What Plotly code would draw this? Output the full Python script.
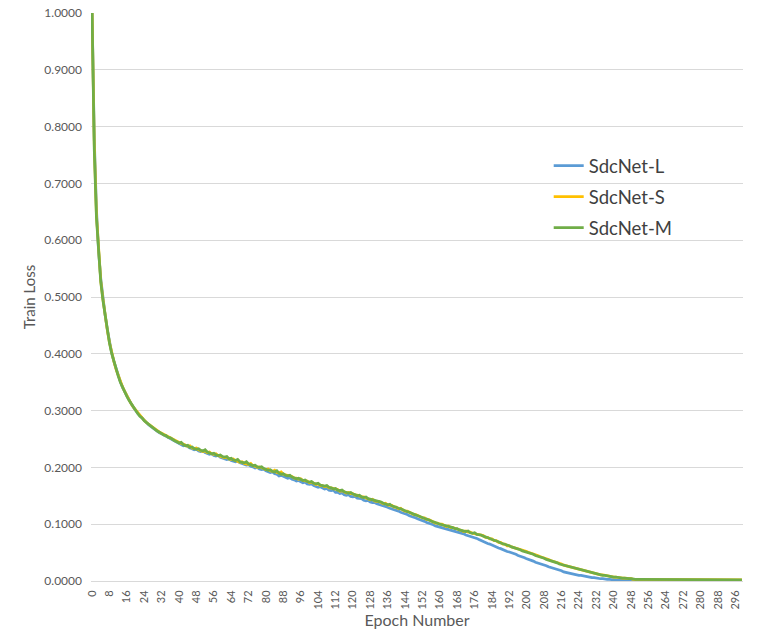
import plotly.graph_objects as go

epochs = list(range(300))

loss_L = [
    1.000, 0.780, 0.655, 0.580, 0.532, 0.498, 0.468, 0.443, 0.421, 0.402,
    0.387, 0.374, 0.362, 0.351, 0.341, 0.333, 0.326, 0.319, 0.312, 0.306,
    0.300, 0.295, 0.291, 0.287, 0.282, 0.279, 0.275, 0.272, 0.269, 0.267,
    0.264, 0.261, 0.259, 0.257, 0.255, 0.252, 0.251, 0.248, 0.246, 0.244,
    0.242, 0.241, 0.238, 0.239, 0.236, 0.234, 0.233, 0.231, 0.232, 0.229,
    0.228, 0.229, 0.226, 0.225, 0.223, 0.224, 0.221, 0.220, 0.221, 0.218,
    0.217, 0.216, 0.214, 0.215, 0.212, 0.211, 0.210, 0.211, 0.208, 0.207,
    0.206, 0.204, 0.205, 0.202, 0.201, 0.199, 0.200, 0.197, 0.196, 0.197,
    0.194, 0.193, 0.191, 0.192, 0.189, 0.188, 0.185, 0.186, 0.184, 0.183,
    0.181, 0.182, 0.179, 0.178, 0.176, 0.177, 0.175, 0.173, 0.174, 0.171,
    0.170, 0.171, 0.168, 0.167, 0.165, 0.166, 0.164, 0.162, 0.163, 0.160,
    0.159, 0.160, 0.156, 0.156, 0.154, 0.155, 0.152, 0.151, 0.152, 0.149,
    0.148, 0.149, 0.146, 0.145, 0.145, 0.142, 0.141, 0.142, 0.139, 0.138,
    0.138, 0.136, 0.135, 0.134, 0.132, 0.131, 0.130, 0.128, 0.127, 0.126,
    0.124, 0.123, 0.121, 0.120, 0.118, 0.117, 0.115, 0.114, 0.112, 0.111,
    0.109, 0.108, 0.106, 0.105, 0.103, 0.102, 0.100, 0.099, 0.097, 0.096,
    0.094, 0.093, 0.092, 0.091, 0.090, 0.089, 0.088, 0.087, 0.086, 0.085,
    0.084, 0.083, 0.081, 0.080, 0.079, 0.078, 0.076, 0.075, 0.073, 0.071,
    0.070, 0.068, 0.066, 0.065, 0.063, 0.061, 0.060, 0.058, 0.057, 0.055,
    0.054, 0.052, 0.051, 0.050, 0.048, 0.047, 0.045, 0.044, 0.042, 0.041,
    0.039, 0.038, 0.036, 0.035, 0.033, 0.032, 0.031, 0.029, 0.028, 0.027,
    0.025, 0.024, 0.023, 0.021, 0.020, 0.019, 0.018, 0.016, 0.015, 0.014,
    0.013, 0.013, 0.012, 0.011, 0.010, 0.010, 0.009, 0.008, 0.008, 0.007,
    0.006, 0.006, 0.005, 0.005, 0.004, 0.004, 0.003, 0.003, 0.003, 0.002,
    0.002, 0.002, 0.002, 0.001, 0.001, 0.001, 0.001, 0.001, 0.001, 0.001,
    0.001, 0.001, 0.001, 0.001, 0.001, 0.001, 0.001, 0.001, 0.001, 0.001,
    0.001, 0.001, 0.001, 0.001, 0.001, 0.001, 0.001, 0.001, 0.001, 0.001,
    0.001, 0.001, 0.001, 0.001, 0.001, 0.001, 0.001, 0.001, 0.001, 0.001,
    0.001, 0.001, 0.001, 0.001, 0.001, 0.001, 0.001, 0.001, 0.001, 0.001,
    0.001, 0.001, 0.001, 0.001, 0.001, 0.001, 0.001, 0.001, 0.001, 0.001,
]

loss_S = [
    1.000, 0.770, 0.645, 0.575, 0.528, 0.496, 0.467, 0.442, 0.420, 0.402,
    0.387, 0.373, 0.362, 0.351, 0.342, 0.334, 0.326, 0.319, 0.312, 0.306,
    0.301, 0.296, 0.291, 0.287, 0.283, 0.279, 0.276, 0.273, 0.270, 0.267,
    0.265, 0.262, 0.260, 0.258, 0.255, 0.254, 0.251, 0.250, 0.248, 0.246,
    0.244, 0.242, 0.241, 0.239, 0.237, 0.238, 0.234, 0.233, 0.234, 0.231,
    0.230, 0.228, 0.229, 0.226, 0.227, 0.224, 0.223, 0.224, 0.221, 0.220,
    0.219, 0.217, 0.218, 0.215, 0.214, 0.215, 0.212, 0.211, 0.209, 0.210,
    0.207, 0.206, 0.205, 0.207, 0.203, 0.202, 0.200, 0.201, 0.199, 0.198,
    0.196, 0.197, 0.194, 0.193, 0.195, 0.191, 0.190, 0.192, 0.188, 0.187,
    0.186, 0.184, 0.184, 0.181, 0.181, 0.179, 0.180, 0.177, 0.176, 0.176,
    0.173, 0.174, 0.172, 0.170, 0.171, 0.168, 0.168, 0.166, 0.167, 0.164,
    0.164, 0.163, 0.161, 0.161, 0.158, 0.159, 0.157, 0.155, 0.156, 0.154,
    0.154, 0.151, 0.151, 0.149, 0.148, 0.148, 0.146, 0.145, 0.143, 0.144,
    0.141, 0.140, 0.140, 0.138, 0.136, 0.137, 0.134, 0.133, 0.133, 0.130,
    0.130, 0.127, 0.128, 0.125, 0.123, 0.123, 0.121, 0.120, 0.117, 0.117,
    0.115, 0.114, 0.111, 0.111, 0.108, 0.108, 0.106, 0.105, 0.102, 0.102,
    0.100, 0.100, 0.098, 0.096, 0.097, 0.094, 0.094, 0.093, 0.091, 0.091,
    0.089, 0.087, 0.088, 0.086, 0.086, 0.084, 0.083, 0.083, 0.081, 0.080,
    0.080, 0.077, 0.077, 0.074, 0.074, 0.071, 0.071, 0.068, 0.068, 0.065,
    0.065, 0.062, 0.062, 0.060, 0.059, 0.058, 0.057, 0.055, 0.054, 0.053,
    0.052, 0.050, 0.049, 0.048, 0.046, 0.045, 0.043, 0.042, 0.040, 0.039,
    0.038, 0.036, 0.035, 0.034, 0.032, 0.031, 0.030, 0.028, 0.027, 0.026,
    0.025, 0.024, 0.022, 0.021, 0.020, 0.019, 0.018, 0.017, 0.016, 0.015,
    0.014, 0.013, 0.013, 0.012, 0.011, 0.011, 0.010, 0.009, 0.009, 0.008,
    0.007, 0.007, 0.006, 0.006, 0.005, 0.005, 0.005, 0.004, 0.004, 0.003,
    0.003, 0.003, 0.003, 0.003, 0.002, 0.002, 0.002, 0.002, 0.002, 0.002,
    0.002, 0.002, 0.002, 0.002, 0.002, 0.002, 0.002, 0.002, 0.002, 0.002,
    0.002, 0.002, 0.003, 0.002, 0.002, 0.002, 0.002, 0.002, 0.002, 0.003,
    0.002, 0.002, 0.002, 0.002, 0.002, 0.002, 0.002, 0.002, 0.003, 0.002,
    0.002, 0.002, 0.002, 0.002, 0.002, 0.002, 0.002, 0.002, 0.002, 0.002,
]

loss_M = [
    1.000, 0.760, 0.640, 0.572, 0.526, 0.494, 0.466, 0.440, 0.419, 0.401,
    0.386, 0.372, 0.361, 0.350, 0.341, 0.333, 0.325, 0.318, 0.312, 0.305,
    0.300, 0.295, 0.290, 0.287, 0.282, 0.279, 0.275, 0.272, 0.270, 0.266,
    0.264, 0.262, 0.259, 0.257, 0.256, 0.253, 0.252, 0.249, 0.247, 0.245,
    0.243, 0.244, 0.240, 0.238, 0.239, 0.235, 0.236, 0.233, 0.232, 0.233,
    0.230, 0.229, 0.231, 0.227, 0.226, 0.224, 0.225, 0.222, 0.221, 0.222,
    0.219, 0.218, 0.219, 0.215, 0.216, 0.213, 0.212, 0.214, 0.210, 0.209,
    0.208, 0.210, 0.206, 0.205, 0.203, 0.204, 0.201, 0.200, 0.201, 0.198,
    0.197, 0.195, 0.196, 0.193, 0.192, 0.194, 0.190, 0.188, 0.189, 0.186,
    0.185, 0.186, 0.183, 0.182, 0.180, 0.181, 0.179, 0.177, 0.178, 0.175,
    0.174, 0.175, 0.172, 0.171, 0.172, 0.169, 0.168, 0.167, 0.168, 0.165,
    0.164, 0.162, 0.163, 0.160, 0.159, 0.160, 0.157, 0.156, 0.155, 0.156,
    0.153, 0.152, 0.150, 0.151, 0.148, 0.147, 0.148, 0.145, 0.144, 0.143,
    0.143, 0.141, 0.140, 0.139, 0.137, 0.136, 0.134, 0.135, 0.132, 0.131,
    0.129, 0.128, 0.127, 0.125, 0.124, 0.122, 0.121, 0.119, 0.118, 0.116,
    0.115, 0.113, 0.112, 0.110, 0.109, 0.107, 0.106, 0.104, 0.103, 0.101,
    0.100, 0.099, 0.098, 0.097, 0.097, 0.095, 0.094, 0.092, 0.092, 0.090,
    0.089, 0.088, 0.087, 0.088, 0.085, 0.084, 0.085, 0.082, 0.082, 0.081,
    0.079, 0.078, 0.076, 0.075, 0.073, 0.072, 0.070, 0.069, 0.067, 0.066,
    0.064, 0.063, 0.062, 0.060, 0.059, 0.058, 0.056, 0.055, 0.053, 0.052,
    0.051, 0.049, 0.048, 0.047, 0.045, 0.044, 0.042, 0.041, 0.040, 0.038,
    0.037, 0.036, 0.034, 0.033, 0.032, 0.030, 0.029, 0.028, 0.027, 0.025,
    0.024, 0.023, 0.022, 0.021, 0.020, 0.019, 0.018, 0.017, 0.016, 0.015,
    0.014, 0.013, 0.012, 0.012, 0.011, 0.010, 0.010, 0.009, 0.008, 0.008,
    0.007, 0.007, 0.006, 0.006, 0.005, 0.005, 0.004, 0.004, 0.004, 0.003,
    0.003, 0.003, 0.003, 0.002, 0.002, 0.002, 0.002, 0.002, 0.002, 0.002,
    0.002, 0.002, 0.002, 0.002, 0.002, 0.002, 0.002, 0.002, 0.002, 0.002,
    0.002, 0.002, 0.002, 0.002, 0.002, 0.002, 0.002, 0.002, 0.002, 0.002,
    0.002, 0.002, 0.002, 0.002, 0.002, 0.002, 0.002, 0.002, 0.002, 0.002,
    0.002, 0.002, 0.002, 0.002, 0.002, 0.002, 0.002, 0.002, 0.002, 0.002,
]

x_ticks = list(range(0, 300, 8))
y_ticks = [0.0, 0.1, 0.2, 0.3, 0.4, 0.5, 0.6, 0.7, 0.8, 0.9, 1.0]

series = [
    ("SdcNet-L", loss_L, "#5B9BD5"),
    ("SdcNet-S", loss_S, "#FFC000"),
    ("SdcNet-M", loss_M, "#70AD47"),
]

FONT = "Lato, 'Open Sans', sans-serif"

fig = go.Figure()
for name, vals, col in series:
    fig.add_trace(go.Scatter(
        x=epochs, y=vals, mode="lines", name=name, legendgroup=name,
        line=dict(color=col, width=2.75),
    ))

fig.update_layout(
    width=780, height=631,
    margin=dict(l=91, r=37, t=13, b=50),
    paper_bgcolor="white", plot_bgcolor="white",
    font=dict(family=FONT, color="#595959"),
    showlegend=True,
    legend=dict(
        x=0.702, y=0.764, xanchor="left", yanchor="top",
        font=dict(size=18.5, color="#404040", family=FONT),
        tracegroupgap=4, bgcolor="rgba(0,0,0,0)",
    ),
    xaxis=dict(
        range=[-0.5, 299.5], tickmode="array", tickvals=x_ticks,
        ticktext=[str(t) for t in x_ticks], tickangle=-90,
        tickfont=dict(size=11, color="#595959"),
        showgrid=False, zeroline=False, automargin=False,
        showline=True, linecolor="#d9d9d9", linewidth=1,
        ticks="", ticklabelstandoff=4, ticklabeloverflow="allow",
        title=dict(text="Epoch Number", font=dict(size=16, color="#595959"), standoff=1),
    ),
    yaxis=dict(
        range=[0, 1], tickmode="array", tickvals=y_ticks,
        ticktext=["%.4f" % v for v in y_ticks],
        tickfont=dict(size=12, color="#595959"),
        showgrid=True, gridcolor="#d9d9d9", gridwidth=1,
        zeroline=False, showline=False, ticks="", automargin=False,
        ticklabelstandoff=8, ticklabeloverflow="allow",
        title=dict(text="Train Loss", font=dict(size=15, color="#595959"), standoff=5),
    ),
)

fig.write_html(
    "out.html",
    config={"displayModeBar": False},
    post_script="document.body.style.margin='0';document.body.style.padding='0';",
)
